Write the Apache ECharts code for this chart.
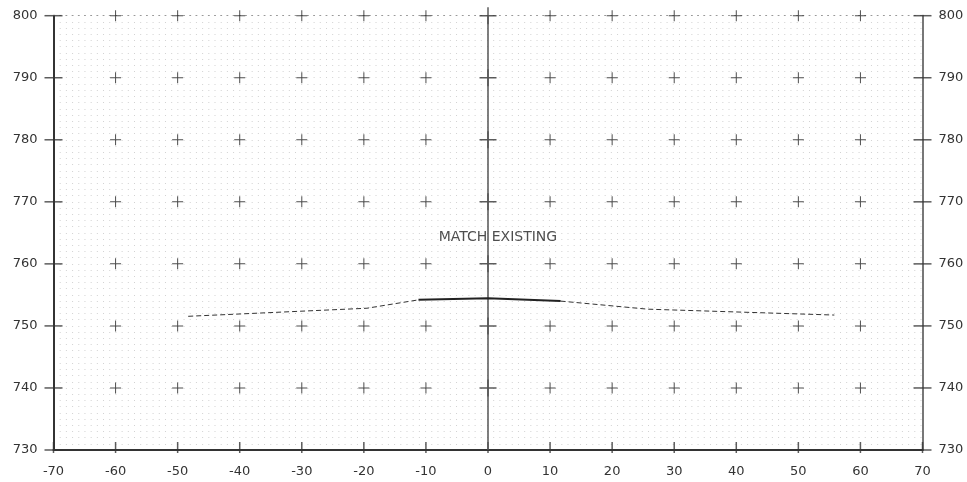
<!DOCTYPE html>
<html>
<head>
<meta charset="utf-8">
<script src="https://cdn.jsdelivr.net/npm/echarts@6/dist/echarts.min.js"></script>
<style>
html,body{margin:0;padding:0;background:#fff;}
#chart{width:967px;height:482px;}
</style>
</head>
<body>
<div id="chart"></div>
<script>
// ---- data ----
var xTicks = [-70,-60,-50,-40,-30,-20,-10,0,10,20,30,40,50,60,70];
var yTicks = [730,740,750,760,770,780,790,800];
var leftDashedX = [-48.3, -19.5, -11.2];
var leftDashedY = [751.55, 752.85, 754.2];
var solidX = [-11.2, 0, 11.7];
var solidY = [754.2, 754.45, 754.0];
var rightDashedX = [11.7, 25.7, 55.8];
var rightDashedY = [754.0, 752.7, 751.75];
var labelText = ['MATCH EXISTING'];
var labelX = [1.6];
var labelY = [764.35];

function zip(a, b) { return a.map(function (v, i) { return [v, b[i]]; }); }

var xMin = xTicks[0], xMax = xTicks[xTicks.length - 1];
var yMin = yTicks[0], yMax = yTicks[yTicks.length - 1];

// grid decorations from tick arrays
var smallPlus = [], bigPlus = [], edgeBars = [], bottomBars = [];
xTicks.forEach(function (x) {
  yTicks.forEach(function (y) {
    if (y === yMin) return;
    if (x === xMin || x === xMax) return;
    if (x === 0) bigPlus.push([x, y]);
    else smallPlus.push([x, y]);
  });
  bottomBars.push([x, yMin]);
});
yTicks.forEach(function (y) {
  edgeBars.push([xMin, y]);
  edgeBars.push([xMax, y]);
});

var dotPeriod = 867 / 140;
var dotStyle = { color: '#d2d2d2', width: 1, type: [1, dotPeriod - 1] };

var font = 'DejaVu Sans';
var chart = echarts.init(document.getElementById('chart'), null, { renderer: 'canvas' });
chart.setOption({
  animation: false,
  backgroundColor: '#ffffff',
  grid: { left: 53.5, right: 44.5, top: 15.7, bottom: 32, outerBoundsMode: 'none' },
  xAxis: [{
    type: 'value', min: xMin, max: xMax, interval: 10, position: 'bottom',
    axisLine: { show: true, onZero: false, lineStyle: { color: '#333', width: 2 } },
    axisTick: { show: false },
    splitLine: { show: false },
    axisLabel: { color: '#333', fontFamily: font, fontSize: 13, margin: 15 }
  }, {
    type: 'value', min: xMin, max: xMax, interval: 10, position: 'top',
    axisLine: { show: true, onZero: false, lineStyle: { color: '#999', width: 1, type: [1, dotPeriod - 1] } },
    axisTick: { show: false }, axisLabel: { show: false }, splitLine: { show: false }
  }],
  yAxis: [{
    type: 'value', min: yMin, max: yMax, interval: 10, position: 'left',
    axisLine: { show: true, onZero: false, lineStyle: { color: '#333', width: 2 } },
    axisTick: { show: false },
    minorTick: { show: false, splitNumber: 10 },
    splitLine: { show: true, lineStyle: dotStyle },
    minorSplitLine: { show: true, lineStyle: dotStyle },
    axisLabel: { color: '#333', fontFamily: font, fontSize: 13, margin: 16 }
  }, {
    type: 'value', min: yMin, max: yMax, interval: 10, position: 'right',
    axisLine: { show: true, onZero: false, lineStyle: { color: '#777', width: 2 } },
    axisTick: { show: false },
    splitLine: { show: false },
    axisLabel: { color: '#333', fontFamily: font, fontSize: 13, margin: 16 }
  }],
  series: [
    {
      type: 'line', name: 'centre', data: [], silent: true,
      markLine: {
        silent: true, symbol: 'none', label: { show: false },
        lineStyle: { color: '#555', width: 1.5, type: 'solid' },
        data: [{ xAxis: 0 }]
      }
    },
    {
      type: 'scatter', silent: true, data: smallPlus, symbolSize: 11,
      symbol: 'path://M0,5H11V6H0ZM5,0H6V11H5Z',
      itemStyle: { color: '#222' }, z: 3
    },
    {
      type: 'scatter', silent: true, data: bigPlus, symbolSize: 17,
      symbol: 'path://M0,7.75H17V9.25H0ZM7.75,0H9.25V17H7.75Z',
      itemStyle: { color: '#333' }, z: 3
    },
    {
      type: 'scatter', silent: true, data: edgeBars, symbolSize: [18, 1.5],
      symbol: 'path://M0,0H18V1.5H0Z',
      itemStyle: { color: '#333' }, z: 3
    },
    {
      type: 'scatter', silent: true, data: bottomBars, symbolSize: [1.5, 11], symbolOffset: [0, -2.5],
      symbol: 'path://M0,0H1.5V11H0Z',
      itemStyle: { color: '#333' }, z: 3
    },
    {
      type: 'line', name: 'left', data: zip(leftDashedX, leftDashedY), symbol: 'none', silent: true,
      lineStyle: { color: '#333', width: 1, type: [5, 3] }, z: 4
    },
    {
      type: 'line', name: 'right', data: zip(rightDashedX, rightDashedY), symbol: 'none', silent: true,
      lineStyle: { color: '#333', width: 1, type: [5, 3] }, z: 4
    },
    {
      type: 'line', name: 'solid', data: zip(solidX, solidY), symbol: 'none', silent: true,
      lineStyle: { color: '#222', width: 2 }, z: 5
    },
    {
      type: 'scatter', silent: true, symbolSize: 0, z: 6,
      data: labelText.map(function (t, i) { return { value: [labelX[i], labelY[i]], name: t }; }),
      label: {
        show: true, position: 'inside', formatter: '{b}',
        color: '#222', fontFamily: font, fontSize: 14
      }
    }
  ]
});
</script>
</body>
</html>
